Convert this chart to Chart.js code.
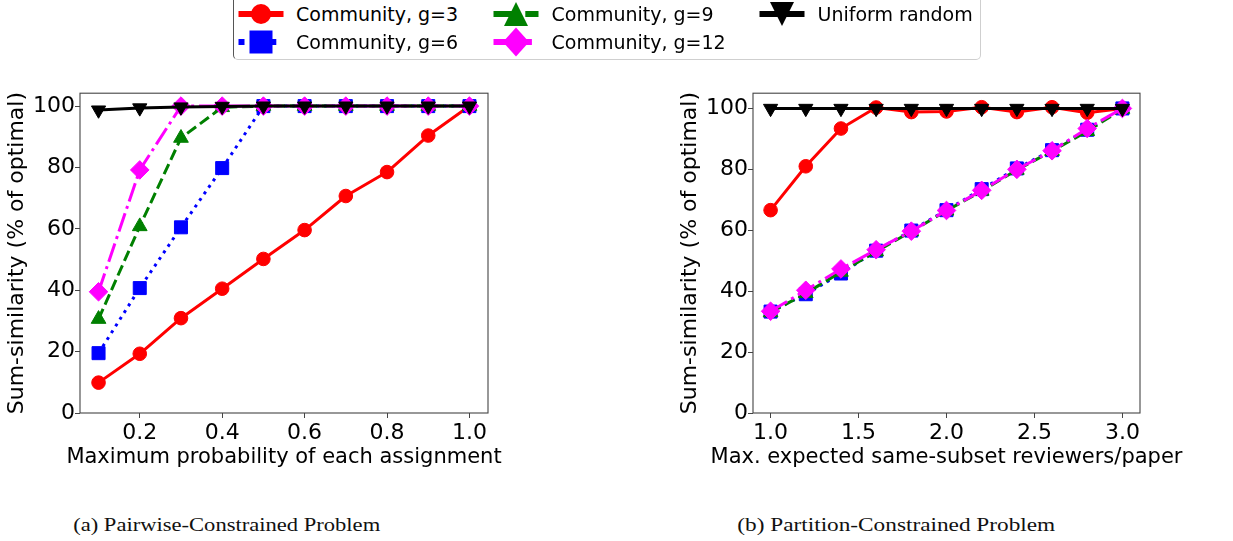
<!DOCTYPE html>
<html>
<head>
<meta charset="utf-8">
<script src="https://cdn.jsdelivr.net/npm/chart.js@4/dist/chart.umd.min.js"></script>
<style>
  html, body { margin: 0; padding: 0; background: #fff; }
  #page { position: relative; width: 1233px; height: 541px; overflow: hidden; font-family: "DejaVu Sans", sans-serif; }
  .plot { position: absolute; }
  #legend { position: absolute; left: 233px; top: -6px; width: 746px; height: 64px;
            border: 1px solid #cfcfcf; border-left: 1px solid #555; border-radius: 0 0 5px 5px; background: #fff; }
  .lg-icon { position: absolute; }
  .lg-text { position: absolute; font-size: 19px; line-height: 28px; height: 28px; white-space: nowrap; color: #000; }
  .caption { position: absolute; font-family: "Liberation Serif", serif; font-size: 19.5px; white-space: nowrap; color: #111; line-height: 22px; }
</style>
</head>
<body>
<div id="page">
  <div id="legend"></div>
  <canvas id="pairwise" class="plot" width="560" height="400" style="left:0px;top:80px;"></canvas>
  <canvas id="partition" class="plot" width="563" height="400" style="left:670px;top:80px;"></canvas>
  <div id="capA" class="caption">(a) Pairwise-Constrained Problem</div>
  <div id="capB" class="caption">(b) Partition-Constrained Problem</div>
</div>
<script>
// ---- series labels ----
const seriesNames = ['Community, g=3', 'Community, g=6', 'Community, g=9', 'Community, g=12', 'Uniform random'];

// ---- (a) pairwise-constrained: x = max probability of each assignment ----
const probLevels   = [0.1, 0.2, 0.3, 0.4, 0.5, 0.6, 0.7, 0.8, 0.9, 1.0];
const pairG3       = [9.9, 19.3, 30.9, 40.5, 50.2, 59.6, 70.7, 78.5, 90.4, 100.0];
const pairG6       = [19.5, 40.7, 60.5, 79.8, 100.0, 100.0, 100.0, 100.0, 100.0, 100.0];
const pairG9       = [30.6, 60.8, 89.6, 99.6, 100.0, 100.0, 100.0, 100.0, 100.0, 100.0];
const pairG12      = [39.5, 79.2, 100.0, 100.0, 100.0, 100.0, 100.0, 100.0, 100.0, 100.0];
const pairUniform  = [98.7, 99.4, 99.7, 99.9, 100.0, 100.0, 100.0, 100.0, 100.0, 100.0];
const pairXTicks   = [0.2, 0.4, 0.6, 0.8, 1.0];

// ---- (b) partition-constrained: x = max expected same-subset reviewers per paper ----
const subsetLevels = [1.0, 1.2, 1.4, 1.6, 1.8, 2.0, 2.2, 2.4, 2.6, 2.8, 3.0];
const partG3       = [66.6, 81.0, 93.4, 100.3, 98.8, 99.0, 100.4, 98.8, 100.4, 98.6, 100.0];
const partG6       = [33.3, 39.0, 45.8, 53.3, 59.9, 66.6, 73.5, 80.3, 86.3, 93.0, 100.0];
const partG9       = [33.0, 39.3, 46.3, 53.0, 59.6, 66.4, 72.9, 79.8, 86.0, 92.5, 99.8];
const partG12      = [33.4, 40.3, 47.3, 53.6, 59.7, 66.5, 73.1, 80.0, 86.1, 93.4, 100.0];
const partUniform  = [100.0, 100.0, 100.0, 100.0, 100.0, 100.0, 100.0, 100.0, 100.0, 100.0, 100.0];
const partXTicks   = [1.0, 1.5, 2.0, 2.5, 3.0];

const yTicks = [0, 20, 40, 60, 80, 100];
const yTitle = 'Sum-similarity (% of optimal)';

// ---- line / marker styles, one per series ----
const LW = 3;
const styles = [
  { color: '#ff0000', dash: [],                                    marker: 'circle',   radius: 6.8, rotation: 0 },
  { color: '#0000ff', dash: [1 * LW, 1.65 * LW],                   marker: 'rect',     radius: 9.2, rotation: 0 },
  { color: '#008000', dash: [3.7 * LW, 1.6 * LW],                  marker: 'triangle', radius: 8.5, rotation: 0 },
  { color: '#ff00ff', dash: [6.4 * LW, 1.6 * LW, 1 * LW, 1.6 * LW], marker: 'rectRot', radius: 9.3, rotation: 0 },
  { color: '#000000', dash: [],                                    marker: 'triangle', radius: 8.2, rotation: 180 }
];

const TICK_FONT = { family: 'DejaVu Sans', size: 22 };
const X_TITLE_FONT = '21px "DejaVu Sans"';
const Y_TITLE_FONT = '22px "DejaVu Sans"';

function buildDatasets(xs, seriesValues) {
  return seriesValues.map((vals, i) => {
    const s = styles[i];
    return {
      label: seriesNames[i],
      data: xs.map((x, k) => ({ x: x, y: vals[k] })),
      borderColor: s.color,
      backgroundColor: s.color,
      borderWidth: LW,
      borderDash: s.dash,
      borderCapStyle: 'butt',
      borderJoinStyle: 'round',
      tension: 0,
      fill: false,
      pointStyle: s.marker,
      pointRotation: s.rotation,
      pointRadius: s.radius,
      pointHoverRadius: s.radius,
      pointBackgroundColor: s.color,
      pointBorderColor: s.color,
      pointBorderWidth: 1,
      clip: false,
      order: seriesValues.length - 1 - i
    };
  });
}

// full rectangular frame around the plotting area, drawn over the lines
const framePlugin = {
  id: 'frame',
  afterDatasetsDraw(chart) {
    const { ctx, chartArea: a } = chart;
    ctx.save();
    ctx.strokeStyle = '#444';
    ctx.lineWidth = 1.1;
    ctx.strokeRect(a.left, a.top, a.right - a.left, a.bottom - a.top);
    ctx.restore();
  }
};

// axis titles, drawn without width limit so they may run past the plot edges
const axisTitlePlugin = {
  id: 'axisTitles',
  afterDraw(chart, args, opts) {
    const { ctx, chartArea: a } = chart;
    ctx.save();
    ctx.fillStyle = '#000';
    ctx.textAlign = 'center';
    ctx.textBaseline = 'middle';
    ctx.font = X_TITLE_FONT;
    ctx.fillText(opts.xText, (a.left + a.right) / 2, opts.xTitleY);
    ctx.font = Y_TITLE_FONT;
    ctx.translate(opts.yTitleX, (a.top + a.bottom) / 2);
    ctx.rotate(-Math.PI / 2);
    ctx.fillText(opts.yText, 0, 0);
    ctx.restore();
  }
};

function makeChart(id, xs, seriesValues, xTicks, xMin, xMax, yMax, xTitle, geom) {
  return new Chart(document.getElementById(id), {
    type: 'line',
    data: { datasets: buildDatasets(xs, seriesValues) },
    plugins: [framePlugin, axisTitlePlugin],
    options: {
      responsive: false,
      animation: false,
      devicePixelRatio: 1,
      layout: { padding: { top: geom.top, right: geom.right, left: 0, bottom: 0 } },
      plugins: {
        legend: { display: false },
        tooltip: { enabled: false },
        axisTitles: { xText: xTitle, yText: yTitle, xTitleY: geom.xTitleY, yTitleX: geom.yTitleX }
      },
      scales: {
        x: {
          type: 'linear', min: xMin, max: xMax,
          afterBuildTicks: s => { s.ticks = xTicks.map(v => ({ value: v })); },
          afterFit: s => { s.height = geom.xAxisH; },
          ticks: { font: TICK_FONT, color: '#000', padding: 2, autoSkip: false, maxRotation: 0,
                   callback: v => Number(v).toFixed(1) },
          grid: { drawOnChartArea: false, drawTicks: true, tickLength: 5, tickColor: '#444', tickWidth: 1 },
          border: { display: false },
          title: { display: false }
        },
        y: {
          min: 0, max: yMax,
          afterBuildTicks: s => { s.ticks = yTicks.map(v => ({ value: v })); },
          afterFit: s => { s.width = geom.yAxisW; },
          ticks: { font: TICK_FONT, color: '#000', padding: 0, autoSkip: false,
                   callback: v => String(v) },
          grid: { drawOnChartArea: false, drawTicks: true, tickLength: 5, tickColor: '#444', tickWidth: 1 },
          border: { display: false },
          title: { display: false }
        }
      }
    }
  });
}

makeChart('pairwise', probLevels, [pairG3, pairG6, pairG9, pairG12, pairUniform], pairXTicks,
          0.055, 1.045, 104.2, 'Maximum probability of each assignment',
          { top: 9, right: 72, xAxisH: 67, yAxisW: 80, xTitleY: 378, yTitleX: 17.5 });

makeChart('partition', subsetLevels, [partG3, partG6, partG9, partG12, partUniform], partXTicks,
          0.9, 3.1, 105.0, 'Max. expected same-subset reviewers/paper',
          { top: 8, right: 93, xAxisH: 67, yAxisW: 83, xTitleY: 378, yTitleX: 20.5 });

// ---- shared legend: three columns, filled column by column ----
const legendCols = [260.5, 516, 782];   // handle centres
const legendRows = [14, 42];
const legendMarkerSize = [10, 11.5, 12, 14.5, 12];
function drawLegendMarker(ctx, kind, rot, x, y, r) {
  ctx.beginPath();
  if (kind === 'circle') {
    ctx.arc(x, y, r, 0, Math.PI * 2);
  } else if (kind === 'rect') {
    ctx.rect(x - r, y - r, 2 * r, 2 * r);
  } else if (kind === 'rectRot') {
    ctx.moveTo(x - r * 0.9, y); ctx.lineTo(x, y - r); ctx.lineTo(x + r * 0.9, y); ctx.lineTo(x, y + r);
  } else if (kind === 'triangle') {
    const d = rot === 180 ? -1 : 1;
    ctx.moveTo(x, y - d * r); ctx.lineTo(x + r, y + d * r); ctx.lineTo(x - r, y + d * r);
  }
  ctx.closePath();
  ctx.fill();
}
const page = document.getElementById('page');
seriesNames.forEach((name, i) => {
  const col = Math.floor(i / 2), row = i % 2;
  const cx = legendCols[col], cy = legendRows[row];
  const s = styles[i];
  const cv = document.createElement('canvas');
  cv.width = 60; cv.height = 34;
  cv.className = 'lg-icon';
  cv.style.left = (cx - 30) + 'px';
  cv.style.top = (cy - 17) + 'px';
  const ctx = cv.getContext('2d');
  const lw = 6;
  ctx.strokeStyle = s.color; ctx.fillStyle = s.color;
  ctx.lineWidth = lw; ctx.lineCap = 'butt';
  ctx.setLineDash(s.dash.map(d => d / LW * lw));
  ctx.beginPath(); ctx.moveTo(30 - 22.5, 17); ctx.lineTo(30 + 22.5, 17); ctx.stroke();
  ctx.setLineDash([]);
  drawLegendMarker(ctx, s.marker, s.rotation, 30, 17, legendMarkerSize[i]);
  page.appendChild(cv);
  const t = document.createElement('div');
  t.className = 'lg-text';
  t.textContent = name;
  t.style.left = (cx + 35.5) + 'px';
  t.style.top = (cy - 14) + 'px';
  page.appendChild(t);
});

// ---- sub-figure captions ----
function placeCaption(id, centreX, centreY, width) {
  const el = document.getElementById(id);
  const w = el.getBoundingClientRect().width;
  const k = width / w;
  el.style.left = (centreX - w / 2) + 'px';
  el.style.top = (centreY - 11) + 'px';
  el.style.transform = 'scaleX(' + k.toFixed(3) + ')';
}
placeCaption('capA', 226.5, 525, 307);
placeCaption('capB', 896, 525, 318);
</script>
</body>
</html>
